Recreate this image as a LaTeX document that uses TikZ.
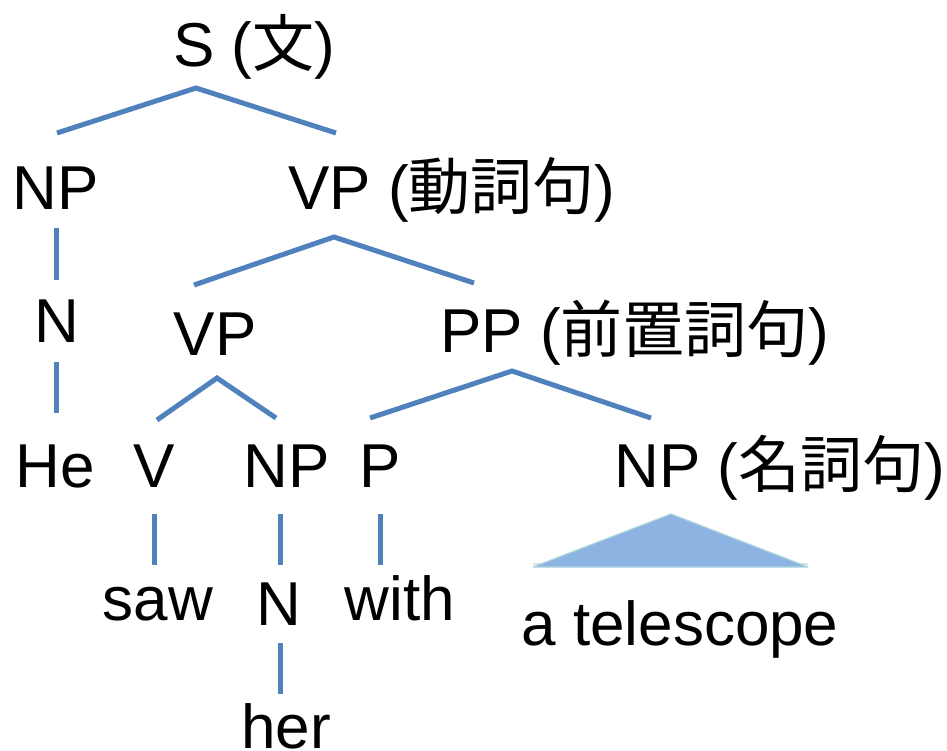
\documentclass[tikz,border=0pt]{standalone}
\usepackage{fontspec}
\setmainfont{Liberation Sans}
\newfontfamily\cjk{Noto Sans CJK JP}
\definecolor{edgeblue}{HTML}{4F81BD}
\definecolor{trifill}{HTML}{8DB3E2}
\definecolor{triedge}{HTML}{A8D4DC}
\begin{document}
\begin{tikzpicture}[x=1pt,y=-1pt,
  lbl/.style={anchor=base,inner sep=0pt,font=\fontsize{62}{70}\selectfont},
  edge/.style={draw=edgeblue,line width=5pt}]
\useasboundingbox (0,0) rectangle (947,751);
% labels
\node[lbl] (s)   at (254,67)  {S ({\cjk 文})};
\node[lbl] (np1) at (56,210)  {NP};
\node[lbl] (vp1) at (452,210) {VP ({\cjk 動詞句})};
\node[lbl] (n1)  at (57,342)  {N};
\node[lbl] (vp2) at (215,355) {VP};
\node[lbl] (pp)  at (635,352) {PP ({\cjk 前置詞句})};
\node[lbl] (he)  at (55,487)  {He};
\node[lbl] (v)   at (154,487) {V};
\node[lbl] (np2) at (287,487) {NP};
\node[lbl] (p)   at (380,487) {P};
\node[lbl] (np3) at (780,487) {NP ({\cjk 名詞句})};
\node[lbl] (saw) at (158,620) {saw};
\node[lbl] (n2)  at (279,625) {N};
\node[lbl] (with) at (400,620) {with};
\node[lbl] (tel) at (680,645) {a telescope};
\node[lbl] (her) at (286,748) {her};
% connector points
\coordinate (s-l) at (57,133);   \coordinate (s-a) at (196,88);  \coordinate (s-r) at (336,133);
\coordinate (np1-b) at (56,228); \coordinate (n1-t) at (56,280);
\coordinate (vp1-l) at (194,285); \coordinate (vp1-a) at (334,237); \coordinate (vp1-r) at (474,283);
\coordinate (n1-b) at (56,362);  \coordinate (he-t) at (56,413);
\coordinate (vp2-l) at (157,420); \coordinate (vp2-a) at (217,378); \coordinate (vp2-r) at (276,418);
\coordinate (pp-l) at (370,418); \coordinate (pp-a) at (512,371); \coordinate (pp-r) at (651,418);
\coordinate (v-b) at (154,514);  \coordinate (saw-t) at (154,565);
\coordinate (np2-b) at (280,514); \coordinate (n2-t) at (280,565);
\coordinate (p-b) at (380,514);  \coordinate (with-t) at (380,565);
\coordinate (n2-b) at (280,643); \coordinate (her-t) at (280,694);
\coordinate (tri-a) at (671,514); \coordinate (tri-l) at (533,567); \coordinate (tri-r) at (808,567);
% edges
\draw[edge] (s-l) -- (s-a) -- (s-r);
\draw[edge] (np1-b) -- (n1-t);
\draw[edge] (vp1-l) -- (vp1-a) -- (vp1-r);
\draw[edge] (n1-b) -- (he-t);
\draw[edge] (vp2-l) -- (vp2-a) -- (vp2-r);
\draw[edge] (pp-l) -- (pp-a) -- (pp-r);
\draw[edge] (v-b) -- (saw-t);
\draw[edge] (np2-b) -- (n2-t);
\draw[edge] (p-b) -- (with-t);
\draw[edge] (n2-b) -- (her-t);
% triangle
\draw[black!12,line width=2pt] ([yshift=3pt]tri-l) -- ([yshift=3pt]tri-r);
\filldraw[fill=trifill,draw=triedge,line width=1.2pt,line join=round] (tri-a) -- (tri-l) -- (tri-r) -- cycle;
\end{tikzpicture}
\end{document}
